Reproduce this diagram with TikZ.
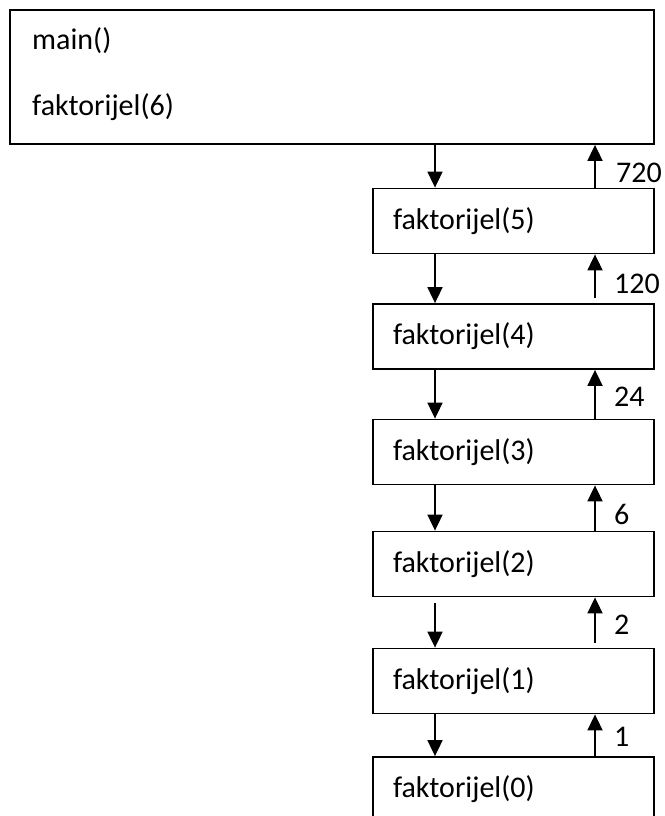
\documentclass[tikz,border=0pt]{standalone}
\usepackage{fontspec}
\setmainfont{Carlito}
\usetikzlibrary{arrows.meta}
\tikzset{
  frame/.style={draw=black, line width=1.8pt, rectangle},
  callbox/.style={frame, minimum width=281pt, minimum height=65pt, text width=241pt, inner xsep=20pt, inner ysep=0pt, align=left, font=\fontsize{30}{35}\selectfont},
  txt/.style={inner sep=0pt, font=\fontsize{30}{35}\selectfont},
  flow/.style={line width=1.8pt, -{Triangle[length=16pt,width=15pt]}},
  retlabel/.style={txt, anchor=west}
}
\begin{document}
\begin{tikzpicture}[x=1pt,y=-1pt]
\useasboundingbox (0,0) rectangle (664,816);
\node[frame, minimum width=644pt, minimum height=134pt, inner sep=0pt] (m) at (332,77) {};
\node[txt, anchor=base west] (mt1) at (32,50) {main()};
\node[txt, anchor=base west] (mt2) at (32,115.5) {faktorijel(6)};
\node[callbox] (b5) at (513.5,221) {faktorijel(5)};
\node[callbox] (b4) at (513.5,336.5) {faktorijel(4)};
\node[callbox] (b3) at (513.5,452) {faktorijel(3)};
\node[callbox] (b2) at (513.5,564) {faktorijel(2)};
\node[callbox] (b1) at (513.5,681) {faktorijel(1)};
\node[callbox] (b0) at (513.5,789.5) {faktorijel(0)};
\coordinate (dx) at (435,0);
\coordinate (ux) at (595,0);
\draw[flow] (m.south -| dx) -- (b5.north -| dx);
\draw[flow] (b5.south -| dx) -- (b4.north -| dx);
\draw[flow] (b4.south -| dx) -- (b3.north -| dx);
\draw[flow] (b3.south -| dx) -- (b2.north -| dx);
\draw[flow] ([yshift=-6pt]b2.south -| dx) -- (b1.north -| dx);
\draw[flow] (b1.south -| dx) -- (b0.north -| dx);
\draw[flow] (b5.north -| ux) -- (m.south -| ux);
\draw[flow] ([yshift=5pt]b4.north -| ux) -- (b5.south -| ux);
\draw[flow] (b3.north -| ux) -- (b4.south -| ux);
\draw[flow] (b2.north -| ux) -- (b3.south -| ux);
\draw[flow] ([yshift=5pt]b1.north -| ux) -- (b2.south -| ux);
\draw[flow] (b0.north -| ux) -- (b1.south -| ux);
\node[retlabel] (l720) at (616,173) {720};
\node[retlabel] (l120) at (614,284) {120};
\node[retlabel] (l24) at (614,397) {24};
\node[retlabel] (l6) at (614,514) {6};
\node[retlabel] (l2) at (614,625) {2};
\node[retlabel] (l1) at (614,737) {1};
\end{tikzpicture}
\end{document}
